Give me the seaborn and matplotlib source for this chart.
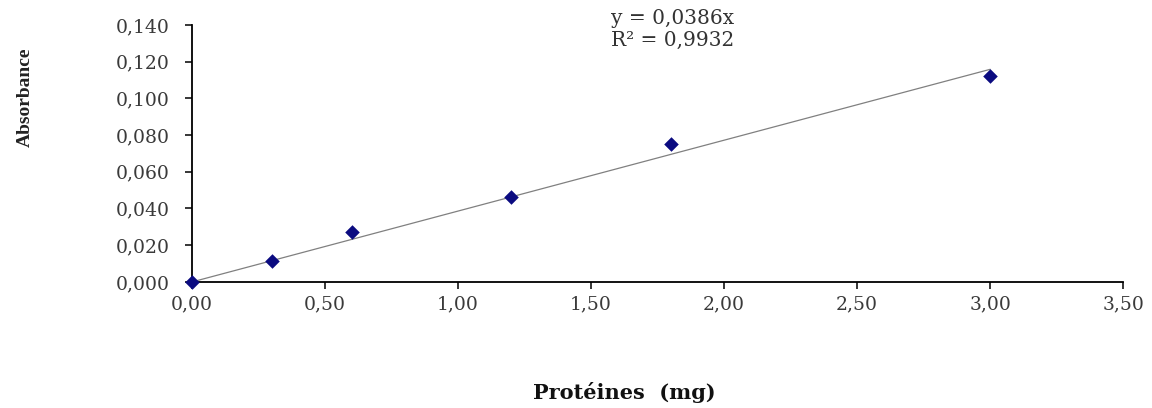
import pandas as pd
import matplotlib
matplotlib.use("Agg")
import matplotlib.pyplot as plt
import seaborn as sns

# standard points (mg protein vs absorbance)
proteines = [0.0, 0.3, 0.6, 1.2, 1.8, 3.0]
absorbance = [0.000, 0.0115, 0.027, 0.046, 0.075, 0.112]

# linear trend line through origin, y = 0.0386x
trend_x = [0.0, 3.0]
trend_y = [0.0, 0.1158]

x_ticks = [0.0, 0.5, 1.0, 1.5, 2.0, 2.5, 3.0, 3.5]
y_ticks = [0.000, 0.020, 0.040, 0.060, 0.080, 0.100, 0.120, 0.140]

sns.set_style("white")
plt.rcParams['font.family'] = ['DejaVu Serif']

df = pd.DataFrame({'x': proteines, 'y': absorbance})
trend = pd.DataFrame({'x': trend_x, 'y': trend_y})

fig = plt.figure(figsize=(11.52, 4.08), dpi=100)
ax = fig.add_axes([0.1667, 0.309, 0.8083, 0.630])

sns.lineplot(data=trend, x='x', y='y', color='#808080', linewidth=0.9, ax=ax)
sns.scatterplot(data=df, x='x', y='y', marker='D', s=55, color='#0b0b80',
                edgecolor='#0b0b80', linewidth=0, ax=ax, zorder=5, clip_on=False)

ax.set_xlim(0, 3.5)
ax.set_ylim(0, 0.14)
ax.set_xticks(x_ticks)
ax.set_yticks(y_ticks)
ax.set_xticklabels([f"{v:.2f}".replace('.', ',') for v in x_ticks])
ax.set_yticklabels([f"{v:.3f}".replace('.', ',') for v in y_ticks])
ax.tick_params(axis='both', labelsize=13.5, labelcolor='#3a3a3a',
               color='black', length=5, width=1.1, direction='out')
ax.tick_params(axis='x', bottom=True, pad=5)
ax.tick_params(axis='y', left=True, pad=11)

for side in ['top', 'right']:
    ax.spines[side].set_visible(False)
for side in ['left', 'bottom']:
    ax.spines[side].set_color('black')
    ax.spines[side].set_linewidth(1.3)

ax.set_xlabel('')
ax.set_ylabel('')

fig.text(0.022, 0.762, 'Absorbance', rotation=90, ha='center', va='center',
         fontsize=14, fontweight='bold', color='#222222',
         family=['Liberation Serif'])
fig.text(0.542, 0.039, 'Protéines  (mg)', ha='center', va='center',
         fontsize=15, fontweight='bold', color='#111111')
fig.text(0.584, 0.955, 'y = 0,0386x', ha='center', va='center', fontsize=14.5,
         color='#333333')
fig.text(0.584, 0.90, 'R² = 0,9932', ha='center', va='center', fontsize=14.5,
         color='#333333')

fig.savefig('out.png', dpi=100)
